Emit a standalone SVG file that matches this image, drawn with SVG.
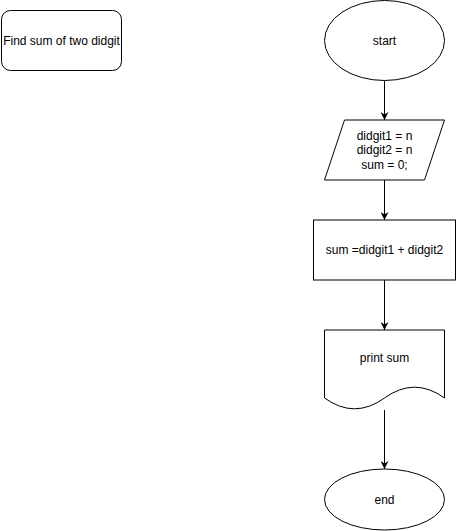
<svg xmlns="http://www.w3.org/2000/svg" width="458" height="531" viewBox="0 0 458 531">
<defs>
<style>
.s{fill:#fff;stroke:#000;stroke-width:1}
.t{font-family:"Liberation Sans",Arial,sans-serif;font-size:12px;fill:#000;text-anchor:middle}
.c{fill:none;stroke:#000;stroke-width:1}
</style>
<marker id="ah" viewBox="0 0 10 10" refX="10" refY="5" markerWidth="8" markerHeight="8" markerUnits="userSpaceOnUse" orient="auto">
<path d="M0,0 L10,5 L0,10 L3,5 Z" fill="#000" stroke="none"/>
</marker>
</defs>
<rect width="458" height="531" fill="#fff"/>
<g id="connectors">
<line class="c" x1="384.5" y1="80.5" x2="384.5" y2="120" marker-end="url(#ah)"/>
<line class="c" x1="384.5" y1="180" x2="384.5" y2="220" marker-end="url(#ah)"/>
<line class="c" x1="384.5" y1="280" x2="384.5" y2="330" marker-end="url(#ah)"/>
<line class="c" x1="384.5" y1="410" x2="384.5" y2="469" marker-end="url(#ah)"/>
</g>
<g id="title">
<rect class="s" x="1.5" y="10.5" width="120" height="60" rx="9" ry="9"/>
<text class="t" x="61.5" y="44.5">Find sum of two didgit</text>
</g>
<g id="start">
<ellipse class="s" cx="384.5" cy="40.5" rx="60" ry="40"/>
<text class="t" x="384.5" y="44.5">start</text>
</g>
<g id="input">
<polygon class="s" points="344.5,120 444.5,120 424.5,180 324.5,180"/>
<text class="t" x="384.5" y="139.5">didgit1 = n</text>
<text class="t" x="384.5" y="154">didgit2 = n</text>
<text class="t" x="384.5" y="168.5">sum = 0;</text>
</g>
<g id="process">
<rect class="s" x="313.5" y="220" width="142" height="60"/>
<text class="t" x="384.5" y="254">sum =didgit1 + didgit2</text>
</g>
<g id="output">
<path class="s" d="M324.5,330 H444.5 V398 Q414.5,376.4 384.5,398 Q354.5,419.6 324.5,398 Z"/>
<text class="t" x="384.5" y="362">print sum</text>
</g>
<g id="end">
<ellipse class="s" cx="384.5" cy="499.5" rx="60" ry="30.5"/>
<text class="t" x="384.5" y="503.5">end</text>
</g>
</svg>
